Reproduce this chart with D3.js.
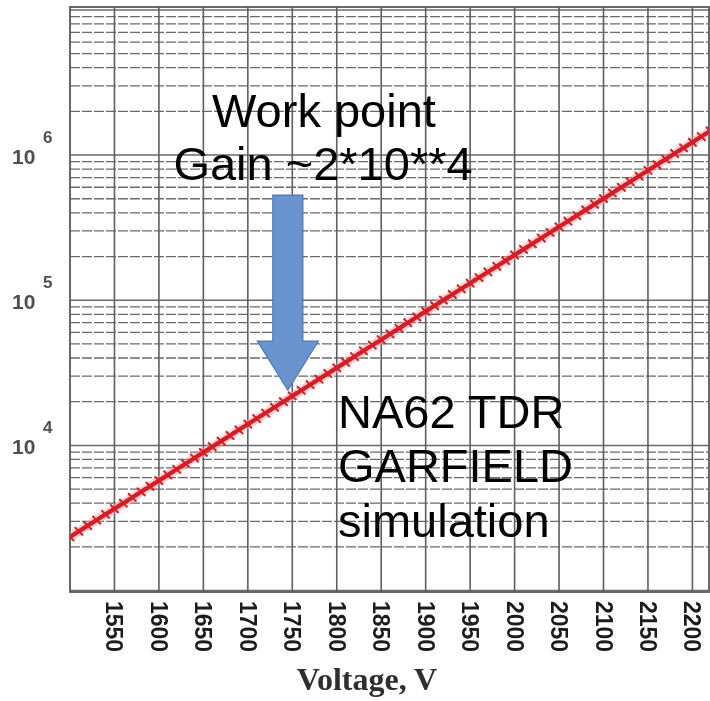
<!DOCTYPE html>
<html>
<head>
<meta charset="utf-8">
<script src="https://cdn.jsdelivr.net/npm/d3@7"></script>
<style>
  html, body { margin: 0; padding: 0; background: #fff; }
  svg { display: block; }
</style>
</head>
<body>
<svg id="chart" width="710" height="701"></svg>
<script>
// Simulated gas gain versus applied voltage (GARFIELD), 10 V steps
const voltages = [
  1500, 1510, 1520, 1530, 1540, 1550, 1560, 1570, 1580, 1590,
  1600, 1610, 1620, 1630, 1640, 1650, 1660, 1670, 1680, 1690,
  1700, 1710, 1720, 1730, 1740, 1750, 1760, 1770, 1780, 1790,
  1800, 1810, 1820, 1830, 1840, 1850, 1860, 1870, 1880, 1890,
  1900, 1910, 1920, 1930, 1940, 1950, 1960, 1970, 1980, 1990,
  2000, 2010, 2020, 2030, 2040, 2050, 2060, 2070, 2080, 2090,
  2100, 2110, 2120, 2130, 2140, 2150, 2160, 2170, 2180, 2190,
  2200, 2210, 2220
];
const gains = [
  2340, 2560, 2800, 3060, 3350, 3660, 4000, 4380, 4790, 5230,
  5720, 6260, 6840, 7480, 8180, 8950, 9790, 10700, 11700, 12800,
  14000, 15300, 16700, 18300, 20000, 21900, 23900, 26200, 28600, 31300,
  34200, 37400, 40900, 44800, 49000, 53500, 58600, 64000, 70000, 76600,
  83800, 91600, 100200, 109500, 119800, 131000, 143200, 156700, 171300, 187400,
  204900, 224100, 245000, 268000, 293000, 320500, 350400, 383200, 419100, 458400,
  501200, 548200, 599400, 655600, 716800, 784000, 857200, 937600, 1025000, 1121000,
  1226000, 1341000, 1466000
];
const voltageTicks = [1550, 1600, 1650, 1700, 1750, 1800, 1850, 1900, 1950, 2000, 2050, 2100, 2150, 2200];
const decadeExponents = [4, 5, 6];
const gridDecades = [3, 4, 5, 6];
const gridMultipliers = [1, 2, 3, 4, 5, 6, 7, 8, 9];

// Work point annotation
const workPointVoltage = 1745;
const workPointGain = 24000;

const svg = d3.select("#chart");
const W = 710, H = 701;
const margin = { left: 70, top: 7, right: 0, bottom: 109 };

const x = d3.scaleLinear().domain([1500, 2220]).range([margin.left, 710.2]);
const y = d3.scaleLog().domain([Math.pow(10, 2.99), Math.pow(10, 7.02)]).range([H - margin.bottom, margin.top]);

const plotL = margin.left, plotT = margin.top, plotR = 709, plotB = H - margin.bottom;

// soft focus for the printed graph paper
const defs = svg.append("defs");
defs.append("filter").attr("id", "soft")
  .attr("x", "-5%").attr("y", "-5%").attr("width", "110%").attr("height", "110%")
  .append("feGaussianBlur").attr("stdDeviation", 0.75);
defs.append("clipPath").attr("id", "plotClip")
  .append("rect").attr("x", plotL).attr("y", plotT).attr("width", plotR - plotL).attr("height", plotB - plotT);

const paper = svg.append("g").attr("filter", "url(#soft)");

// horizontal log grid
const hValues = [];
gridDecades.forEach(n => gridMultipliers.forEach(k => hValues.push({ v: k * Math.pow(10, n), major: k === 1 })));
hValues.push({ v: 1e7, major: true });

paper.append("g").selectAll("line")
  .data(hValues)
  .join("line")
  .attr("x1", plotL).attr("x2", plotR)
  .attr("y1", d => y(d.v)).attr("y2", d => y(d.v))
  .attr("stroke", "#6a6a6a")
  .attr("stroke-width", d => d.major ? 1.5 : 1.3)
  .attr("stroke-dasharray", d => d.major ? null : "10,2");

// vertical grid every 50 V
paper.append("g").selectAll("line")
  .data(voltageTicks)
  .join("line")
  .attr("x1", d => x(d)).attr("x2", d => x(d))
  .attr("y1", plotT).attr("y2", plotB)
  .attr("stroke", "#5e5e5e")
  .attr("stroke-width", 1.6);

// frame
paper.append("rect")
  .attr("x", plotL).attr("y", plotT)
  .attr("width", plotR - plotL).attr("height", plotB - plotT)
  .attr("fill", "none").attr("stroke", "#5a5a5a").attr("stroke-width", 1.8);

// gain curve with cross markers
const pts = voltages.map((v, i) => [v, gains[i]]);
const curve = paper.append("g").attr("clip-path", "url(#plotClip)");
const lineGen = d3.line().x(d => x(d[0])).y(d => y(d[1]));
curve.append("path")
  .datum(pts)
  .attr("fill", "none")
  .attr("stroke", "#f29a9a")
  .attr("stroke-width", 9)
  .attr("stroke-opacity", 0.45)
  .attr("d", lineGen);
curve.append("path")
  .datum(pts)
  .attr("fill", "none")
  .attr("stroke", "#d61f28")
  .attr("stroke-width", 4.2)
  .attr("d", lineGen);
const m = 4.2;
curve.append("g").selectAll("path")
  .data(pts)
  .join("path")
  .attr("transform", d => `translate(${x(d[0])},${y(d[1])})`)
  .attr("d", `M${-m},${-m}L${m},${m}M${-m},${m}L${m},${-m}`)
  .attr("stroke", "#d61f28")
  .attr("stroke-width", 2)
  .attr("fill", "none");

// y axis decade labels
const yLab = paper.append("g").attr("fill", "#4f4f4f")
  .attr("font-family", "'Liberation Sans', Arial, sans-serif").attr("font-weight", "bold");
decadeExponents.forEach(e => {
  const yy = y(Math.pow(10, e));
  yLab.append("text").attr("x", 12).attr("y", yy + 9).attr("font-size", 21).text("10");
  yLab.append("text").attr("x", 43).attr("y", yy - 12).attr("font-size", 17).text(String(e));
});

// x axis tick labels, rotated
paper.append("g").selectAll("text")
  .data(voltageTicks)
  .join("text")
  .attr("transform", d => `translate(${x(d)},601) rotate(90)`)
  .attr("dominant-baseline", "central")
  .attr("font-family", "'Liberation Sans', Arial, sans-serif")
  .attr("font-weight", "bold")
  .attr("font-size", 23)
  .attr("fill", "#1a1a1a")
  .text(d => d);

// x axis title
paper.append("text")
  .attr("x", 367).attr("y", 690)
  .attr("text-anchor", "middle")
  .attr("font-family", "'Liberation Serif', 'Times New Roman', serif")
  .attr("font-weight", "bold")
  .attr("font-size", 32)
  .attr("fill", "#2e2e2e")
  .text("Voltage, V");

// work point arrow
const tipX = x(workPointVoltage), tipY = y(workPointGain);
const headLen = 49, headHalf = 30.5, shaftHalf = 15, shaftTop = tipY - 195;
svg.append("path")
  .attr("d", [
    [tipX - shaftHalf, shaftTop], [tipX + shaftHalf, shaftTop],
    [tipX + shaftHalf, tipY - headLen], [tipX + headHalf, tipY - headLen],
    [tipX, tipY], [tipX - headHalf, tipY - headLen],
    [tipX - shaftHalf, tipY - headLen]
  ].map((p, i) => (i ? "L" : "M") + p[0] + "," + p[1]).join("") + "Z")
  .attr("fill", "#6a94cf")
  .attr("stroke", "#4a72b0")
  .attr("stroke-width", 1.2);

// annotation text
const note = svg.append("g")
  .attr("font-family", "'Liberation Sans', Arial, sans-serif")
  .attr("font-size", 47)
  .attr("fill", "#000");
note.append("text").attr("x", 324).attr("y", 127).attr("text-anchor", "middle").text("Work point");
note.append("text").attr("x", 323).attr("y", 180).attr("text-anchor", "middle").text("Gain ~2*10**4");
note.append("text").attr("x", 338).attr("y", 428).text("NA62 TDR");
note.append("text").attr("x", 338).attr("y", 482).text("GARFIELD");
note.append("text").attr("x", 338).attr("y", 537).text("simulation");
</script>
</body>
</html>
